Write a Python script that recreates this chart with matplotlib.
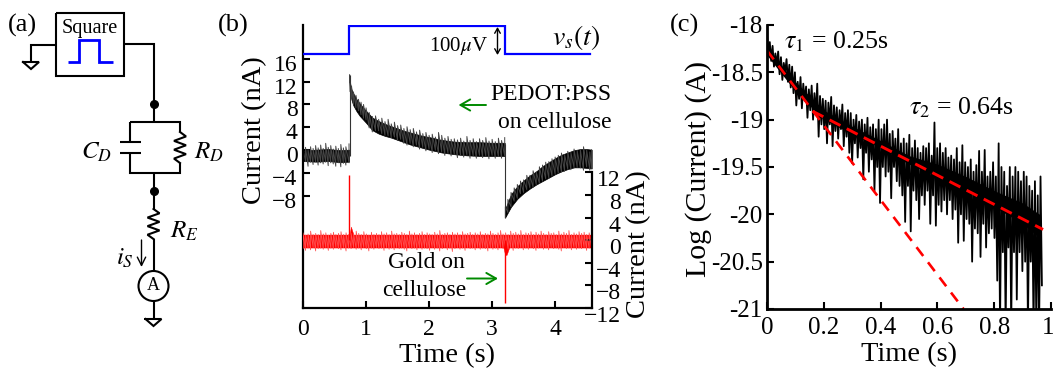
import matplotlib
matplotlib.use('Agg')
import matplotlib.pyplot as plt
import numpy as np
from matplotlib.patches import Circle
from matplotlib.transforms import ScaledTranslation

plt.rcParams['font.family'] = ['Liberation Serif', 'DejaVu Serif']
plt.rcParams['mathtext.fontset'] = 'stix'

W, H = 1055, 370

# Panel (b): square wave (uV)
volt_t = [0, 0.735, 0.735, 3.206, 3.206, 4.56]
volt_v = [0, 0, 100, 100, 0, 0]

# Panel (b): PEDOT:PSS trace, solid core of the noise band (nA)
core_pre_t = [0, 0.2, 0.4, 0.6, 0.73]
core_pre_hi = [-0.1, 0.1, 0.2, 0.0, 0.1]
core_pre_lo = [-1.9, -2.0, -1.9, -2.1, -2.0]
core_decay_t = [0.74, 0.75, 0.77, 0.80, 0.85, 0.90, 0.95, 1.00, 1.10, 1.20, 1.30, 1.40, 1.50, 1.60, 1.70, 1.80, 1.90, 2.00, 2.20, 2.40, 2.60, 2.80, 3.00, 3.20]
core_decay_hi = [12.8, 11.6, 10.6, 9.9, 8.9, 8.2, 7.5, 6.9, 5.7, 5.1, 4.6, 4.2, 3.8, 3.4, 3.1, 2.8, 2.5, 2.3, 1.8, 1.5, 1.4, 1.4, 1.3, 1.3]
core_decay_lo = [11.8, 10.0, 8.8, 7.8, 6.8, 6.0, 5.4, 4.8, 3.5, 2.9, 2.5, 2.2, 1.8, 1.4, 1.0, 0.7, 0.4, 0.1, -0.4, -0.7, -0.9, -1.0, -1.0, -1.0]
core_rec_t = [3.21, 3.30, 3.40, 3.50, 3.60, 3.70, 3.80, 3.90, 4.00, 4.10, 4.20, 4.30, 4.40, 4.50, 4.58]
core_rec_hi = [-10.2, -7.7, -6.3, -5.3, -4.4, -3.7, -2.8, -2.1, -1.4, -0.8, -0.4, 0.0, 0.2, 0.2, 0.1]
core_rec_lo = [-11.7, -9.9, -8.5, -7.5, -6.7, -6.0, -5.4, -4.8, -4.2, -3.7, -3.3, -3.0, -3.0, -3.1, -3.2]

# same trace, tips of the noise spikes around the core
pre_t = [0, 0.04, 0.08, 0.12, 0.16, 0.20, 0.24, 0.28, 0.32, 0.36, 0.40, 0.44, 0.48, 0.52, 0.56, 0.60, 0.64, 0.68, 0.73]
pre_hi = [0.2, 0.5, 0.1, 0.6, 0.3, 0.8, 0.4, 0.9, 0.3, 1.2, 0.5, 0.8, 0.2, 0.7, 0.3, 1.0, 0.4, 0.6, 1.1]
pre_lo = [-2.3, -2.0, -2.8, -2.1, -2.5, -2.0, -2.6, -2.2, -2.4, -2.1, -2.7, -2.2, -2.4, -2.8, -2.2, -2.9, -2.3, -2.6, -2.2]
decay_t = [0.74, 0.75, 0.77, 0.80, 0.84, 0.88, 0.92, 0.96, 1.00, 1.05, 1.10, 1.15, 1.20, 1.25, 1.30, 1.35, 1.40, 1.45,
           1.50, 1.55, 1.60, 1.65, 1.70, 1.75, 1.80, 1.85, 1.90, 1.95, 2.00, 2.05, 2.10, 2.15, 2.20, 2.25, 2.30, 2.35,
           2.40, 2.45, 2.50, 2.55, 2.60, 2.65, 2.70, 2.75, 2.80, 2.85, 2.90, 2.95, 3.00, 3.05, 3.10, 3.15, 3.20]
decay_hi = [13.2, 12.0, 11.2, 10.2, 9.6, 8.9, 8.4, 8.0, 7.4, 6.6, 5.9, 6.0, 5.4, 5.6, 5.0, 5.4, 4.6, 4.9,
            4.3, 4.4, 3.8, 4.1, 3.6, 3.8, 3.2, 3.5, 2.9, 3.1, 2.6, 2.8, 2.3, 3.1, 2.6, 2.1, 2.4, 1.9,
            2.0, 1.8, 2.1, 1.6, 2.4, 1.7, 2.0, 1.5, 2.0, 1.7, 2.2, 1.6, 1.9, 1.5, 2.1, 1.7, 2.2]
decay_lo = [12.0, 10.2, 9.0, 8.0, 7.4, 6.9, 6.2, 5.6, 5.3, 3.9, 3.2, 3.4, 3.4, 2.9, 2.6, 2.5, 2.2, 2.3,
            1.7, 1.9, 1.2, 0.9, 1.2, 0.6, 0.9, 0.2, 0.5, -0.1, 0.2, -0.4, 0.0, -0.6, -0.3, -0.9, -0.5, -1.0,
            -0.7, -1.3, -0.9, -1.2, -0.8, -1.4, -1.0, -1.4, -0.9, -1.3, -1.0, -1.5, -0.9, -1.4, -1.1, -1.4, -1.0]
rec_t = [3.21, 3.25, 3.30, 3.35, 3.40, 3.45, 3.50, 3.55, 3.60, 3.65, 3.70, 3.75, 3.80, 3.85, 3.90, 3.95,
         4.00, 4.05, 4.10, 4.15, 4.20, 4.25, 4.30, 4.35, 4.40, 4.45, 4.50, 4.55, 4.58]
rec_hi = [-9.9, -8.6, -7.4, -6.6, -6.0, -5.4, -5.2, -4.4, -4.4, -3.6, -3.8, -2.9, -2.6, -2.1, -2.0, -1.5,
          -1.2, -0.9, -0.5, -0.8, -0.2, -0.4, 0.2, -0.1, 0.1, 0.6, 0.0, -0.3, 0.1]
rec_lo = [-11.8, -10.9, -9.9, -8.9, -8.4, -7.6, -7.4, -6.9, -6.6, -6.5, -6.0, -5.8, -5.4, -5.0, -4.9, -4.5,
          -4.2, -4.0, -3.8, -3.7, -3.3, -3.4, -3.1, -3.0, -3.1, -3.5, -2.9, -3.5, -3.2]
black_edge_t = [0.74, 3.206]
black_edge_lo = [-1.0, -11.8]
black_edge_hi = [13.2, 1.0]

# Panel (b): gold trace (nA, right axis)
red_core_t = [0, 0.74, 0.76, 0.80, 3.18, 3.206, 3.23, 3.27, 4.58]
red_core_hi = [1.0, 1.0, 2.4, 1.0, 1.0, 1.0, 1.0, 1.0, 1.0]
red_core_lo = [-1.3, -1.3, -1.3, -1.3, -1.3, -2.6, -2.6, -1.3, -1.3]
red_hi = [1.3, 0.9, 1.1, 1.6, 1.0, 1.2, 1.0, 1.7, 1.1, 1.3, 0.9, 1.2, 1.4, 1.0, 1.2, 1.5, 1.0, 1.3, 1.0, 1.2,
          1.1, 1.6, 1.2, 1.0, 1.5, 1.1, 0.9, 1.4, 1.0, 1.2, 1.0, 1.5, 1.1, 1.3, 1.0, 1.6, 1.1, 1.2, 1.0, 1.4,
          1.2, 1.0, 1.6, 1.1, 1.3, 1.0, 1.2, 1.5, 1.0, 1.3, 1.1, 1.0, 1.4, 1.1, 1.7, 1.0, 1.2, 1.3, 1.0, 1.4,
          1.1, 1.3, 1.0, 1.5, 1.1, 1.2, 1.4, 1.0, 1.3, 1.1, 1.5, 1.0, 1.2, 1.1, 1.6, 1.2, 1.0, 1.3, 1.7, 1.1,
          1.3, 1.0, 1.6, 1.2, 1.4, 1.1, 1.7, 1.0, 1.3, 1.2, 1.5, 1.0, 1.4, 1.1, 1.6, 1.2, 1.0, 1.5, 1.2, 1.3,
          1.0, 1.6, 1.1, 1.4, 1.2, 1.7, 1.0, 1.3, 1.1, 1.5, 1.2, 1.4, 1.0, 1.3, 1.1]
red_lo = [-1.5, -1.8, -1.4, -1.7, -1.3, -1.9, -1.5, -1.4, -1.6, -1.3, -1.8, -1.4, -1.6, -1.3, -1.5, -1.7, -1.3, -1.9, -1.4, -1.5,
          -1.3, -1.6, -1.4, -1.7, -1.3, -1.5, -1.9, -1.4, -1.6, -1.3, -1.5, -1.4, -1.8, -1.3, -1.6, -1.4, -1.7, -1.3, -1.5, -1.4,
          -1.6, -1.9, -1.3, -1.5, -1.4, -1.7, -1.3, -1.6, -1.4, -1.5, -1.8, -1.3, -1.6, -1.4, -1.9, -1.5, -1.3, -1.7, -1.4, -2.0,
          -1.5, -1.3, -1.6, -1.4, -1.8, -1.3, -1.5, -1.4, -1.7, -1.3, -1.6, -1.4, -1.5, -1.9, -1.3, -1.6, -1.4, -1.7, -1.3, -1.5,
          -1.4, -1.6, -1.3, -1.8, -1.4, -1.5, -1.3, -1.7, -1.4, -1.6, -1.3, -1.5, -1.8, -1.4, -1.3, -1.6, -1.4, -1.7, -1.3, -1.5,
          -1.4, -1.6, -1.9, -1.3, -1.5, -1.4, -1.7, -1.3, -1.6, -1.4, -1.5, -1.3, -1.8, -1.4, -1.5]
red_t = np.linspace(0, 4.58, len(red_hi))
red_spike_t = [0.735, 3.206]
red_spike_peak = [11.6, -11.1]

log_i = [
    -18.10, -18.30, -18.18, -18.38, -18.22, -18.44, -18.30, -18.42, -18.28, -18.52, -18.34, -18.58, -18.40, -18.50, -18.36, -18.60, -18.42, -18.66, -18.44, -18.72,
    -18.50, -18.85, -18.60, -18.78, -18.55, -18.88, -18.62, -18.80, -18.65, -18.98, -18.68, -18.90, -18.64, -19.00, -18.72, -18.95, -18.62, -19.18, -18.75, -19.05,
    -18.78, -19.10, -18.80, -19.25, -18.82, -19.05, -18.76, -19.28, -18.85, -19.12, -18.87, -19.20, -18.90, -19.10, -18.84, -19.28, -18.93, -19.18, -18.90, -19.35,
    -18.93, -19.46, -19.00, -19.25, -18.95, -19.40, -19.02, -19.30, -19.00, -19.63, -19.05, -19.35, -18.98, -19.55, -19.08, -19.42, -19.05, -19.75, -19.10, -19.50,
    -19.00, -19.88, -19.10, -19.50, -19.05, -19.60, -19.00, -19.55, -19.15, -19.83, -19.12, -19.50, -19.20, -19.65, -19.10, -19.70, -19.25, -19.80, -19.20, -20.08,
    -19.25, -19.70, -19.16, -20.18, -19.30, -19.75, -19.22, -19.85, -19.30, -20.05, -19.35, -19.80, -19.28, -19.90, -19.30, -19.75, -19.25, -20.10, -19.38, -19.80,
    -19.03, -20.12, -19.30, -19.90, -19.25, -19.97, -19.35, -19.85, -19.30, -20.00, -19.40, -19.85, -19.38, -20.05, -19.42, -19.95, -19.30, -20.30, -19.45, -20.00,
    -19.27, -20.28, -19.45, -20.05, -19.50, -20.10, -19.42, -20.50, -19.55, -20.15, -19.48, -20.20, -19.33, -20.45, -19.55, -20.10, -19.32, -20.35, -19.60, -20.20,
    -19.55, -20.15, -19.45, -20.25, -19.60, -20.70, -19.25, -21.20, -19.50, -20.40, -19.55, -21.20, -19.70, -20.35, -19.50, -21.20, -19.60, -20.40, -19.50, -20.90,
    -19.55, -20.40, -19.65, -20.60, -19.55, -20.50, -19.60, -21.20, -19.70, -20.50, -19.75, -21.20, -19.65, -21.20, -19.80, -21.20, -19.60, -20.75,
]
log_t = np.linspace(0, 0.968, len(log_i))
log_core_t = [0, 0.10, 0.20, 0.30, 0.40, 0.50, 0.60, 0.70, 0.80, 0.90, 0.96]
log_core_hi = [-18.25, -18.60, -18.90, -19.07, -19.22, -19.38, -19.47, -19.60, -19.75, -19.88, -20.00]
log_core_lo = [-18.32, -18.70, -19.00, -19.15, -19.30, -19.47, -19.60, -19.75, -19.92, -20.10, -20.25]
fit1_t = [0, 0.692]
fit1_y = [-18.27, -21.0]
fit2_t = [0.16, 0.972]
fit2_y = [-18.91, -20.16]

xticks_b = [0, 1, 2, 3, 4]
yticks_left = [-8, -4, 0, 4, 8, 12, 16]
yticks_right = [-12, -8, -4, 0, 4, 8, 12]
xticks_c = [0, 0.2, 0.4, 0.6, 0.8, 1]
xlabels_c = ['0', '0.2', '0.4', '0.6', '0.8', '1']
yticks_c = [-21, -20.5, -20, -19.5, -19, -18.5, -18]
ylabels_c = ['-21', '-20.5', '-20', '-19.5', '-19', '-18.5', '-18']


def px_axes(fig, left, top, right, bottom, **kw):
    return fig.add_axes([left / W, 1 - bottom / H, (right - left) / W, (bottom - top) / H], **kw)


def shift_labels(fig, labels, dy_px, dx_px=0):
    offset = ScaledTranslation(dx_px / fig.dpi, -dy_px / fig.dpi, fig.dpi_scale_trans)
    for lab in labels:
        lab.set_transform(lab.get_transform() + offset)


def zigzag(ax, t, lo, hi, color, lw):
    # run the trace up and down between the noise tips
    xs = np.column_stack([t, t]).ravel()
    ys = np.column_stack([lo, hi]).ravel()
    ax.plot(xs, ys, color=color, lw=lw)


def wire(ax, xs, ys, lw=1.5, color='black'):
    ax.plot(xs, ys, color=color, lw=lw, solid_joinstyle='miter', solid_capstyle='butt')


def resistor(ax, x, y0, y1):
    ys = np.linspace(y0, y1, 8)
    xs = [x, x + 6, x - 6, x + 6, x - 6, x + 6, x - 6, x]
    ax.plot(xs, ys, color='black', lw=1.5, solid_joinstyle='miter')


def ground(ax, x, y):
    ax.plot([x - 8, x + 8, x, x - 8], [y, y, y + 7, y], color='black', lw=1.5, solid_joinstyle='miter')


fig = plt.figure(figsize=(W / 100, H / 100), dpi=100)

# ---- panel (b) ----
ax_b = px_axes(fig, 303, 25, 591.7, 308)
zigzag(ax_b, pre_t, pre_lo, pre_hi, '#444444', 0.7)
zigzag(ax_b, decay_t, decay_lo, decay_hi, '#444444', 0.7)
zigzag(ax_b, rec_t, rec_lo, rec_hi, '#444444', 0.7)
ax_b.fill_between(core_pre_t, core_pre_lo, core_pre_hi, color='black', lw=0.5)
ax_b.fill_between(core_decay_t, core_decay_lo, core_decay_hi, color='black', lw=0.5)
ax_b.fill_between(core_rec_t, core_rec_lo, core_rec_hi, color='black', lw=0.5)
ax_b.vlines(black_edge_t, black_edge_lo, black_edge_hi, color='#333333', lw=0.8)
ax_b.set_xlim(0, 4.58)
ax_b.set_ylim(-27.6, 21.9)
ax_b.set_xticks(xticks_b)
ax_b.set_yticks(yticks_left)
ax_b.tick_params(direction='in', length=5, width=1.5, labelsize=17, pad=4)
ax_b.tick_params(axis='x', pad=8)
ax_b.set_xlabel('Time (s)', fontsize=20.5, labelpad=2)
for side in ['top', 'right']:
    ax_b.spines[side].set_visible(False)
for side in ['left', 'bottom']:
    ax_b.spines[side].set_linewidth(1.6)
shift_labels(fig, ax_b.get_yticklabels(), 4)

ax_r = ax_b.twinx()
zigzag(ax_r, red_t, red_lo, red_hi, '#ff5050', 0.6)
ax_r.fill_between(red_core_t, red_core_lo, red_core_hi, color='#ff0000', lw=0.3)
ax_r.vlines(red_spike_t, [0, 0], red_spike_peak, color='#ff0000', lw=1.0)
ax_r.set_ylim(-12, 38.09)
ax_r.set_yticks(yticks_right)
ax_r.tick_params(direction='in', length=5, width=1.5, labelsize=17, pad=21)
for lab in ax_r.get_yticklabels():
    lab.set_ha('right')
shift_labels(fig, ax_r.get_yticklabels(), 6)
for side in ['top', 'left', 'bottom']:
    ax_r.spines[side].set_visible(False)
ax_r.spines['right'].set_linewidth(1.6)
ax_r.spines['right'].set_bounds(-12, 12)

ax_v = ax_b.twinx()
ax_v.plot(volt_t, volt_v, color='#0000ff', lw=1.6, solid_joinstyle='miter')
ax_v.set_ylim(-907, 103.6)
ax_v.axis('off')

# ---- panel (c) ----
ax_c = px_axes(fig, 767, 25, 1051, 309)
ax_c.fill_between(log_core_t, log_core_lo, log_core_hi, color='black', lw=0)
ax_c.plot(log_t, log_i, color='black', lw=1.3)
ax_c.plot(fit1_t, fit1_y, color='#ff0000', lw=1.9, dashes=(4.2, 3))
ax_c.plot(fit2_t, fit2_y, color='#ff0000', lw=2.1, dashes=(4.2, 2.4))
ax_c.set_xlim(0, 1)
ax_c.set_ylim(-21, -18)
ax_c.set_xticks(xticks_c)
ax_c.set_xticklabels(xlabels_c)
ax_c.set_yticks(yticks_c)
ax_c.set_yticklabels(ylabels_c)
ax_c.tick_params(direction='in', length=5, width=1.5, labelsize=18, pad=3)
ax_c.tick_params(axis='x', pad=6)
ax_c.set_xlabel('Time (s)', fontsize=20.5, labelpad=2)
for side in ['top', 'right']:
    ax_c.spines[side].set_visible(False)
for side in ['left', 'bottom']:
    ax_c.spines[side].set_linewidth(2)
shift_labels(fig, ax_c.get_xticklabels()[-1:], 0, -3)

# ---- overlay in pixel coordinates: circuit and annotations ----
ov = fig.add_axes([0, 0, 1, 1], facecolor='none')
ov.set_xlim(0, W)
ov.set_ylim(H, 0)
ov.axis('off')

wire(ov, [56, 124, 124, 56, 56], [13, 13, 76, 76, 13])
wire(ov, [56, 31, 31], [45, 45, 62])
ground(ov, 31, 62)
wire(ov, [124, 153.5, 153.5], [44, 44, 122])
wire(ov, [68, 79, 79, 99, 99, 113], [62, 62, 40, 40, 62, 62], lw=2, color='#0000ff')
ov.plot([153.5, 153.5], [104, 190.5], 'o', color='black', ms=5.5)
wire(ov, [130, 180, 180], [122, 122, 132])
wire(ov, [130, 130], [122, 141.6])
wire(ov, [120, 141], [141.6, 141.6])
wire(ov, [120, 141], [153, 153])
wire(ov, [130, 130, 180, 180], [153, 172.6, 172.6, 163])
resistor(ov, 180, 132, 163)
wire(ov, [153.5, 153.5], [172.6, 209])
resistor(ov, 153.5, 209, 239)
wire(ov, [153.5, 153.5], [239, 271])
ov.add_patch(Circle((153.5, 286), 15, fill=False, ec='black', lw=1.5))
wire(ov, [153.5, 153.5], [301, 319])
ground(ov, 153.5, 319)
ov.annotate('', xy=(141.5, 267), xytext=(141.5, 240),
            arrowprops=dict(arrowstyle='->,head_width=0.3,head_length=0.6', lw=1, color='black', shrinkA=0, shrinkB=0))
ov.annotate('', xy=(497.5, 27), xytext=(497.5, 55),
            arrowprops=dict(arrowstyle='<->,head_width=0.2,head_length=0.35', lw=1, color='black', shrinkA=0, shrinkB=0))
ov.annotate('', xy=(458.5, 105), xytext=(486, 105),
            arrowprops=dict(arrowstyle='->,head_width=0.4,head_length=0.7', lw=1.4, color='#008a00', shrinkA=0, shrinkB=0))
ov.annotate('', xy=(498, 278.5), xytext=(467, 278.5),
            arrowprops=dict(arrowstyle='->,head_width=0.4,head_length=0.7', lw=1.4, color='#008a00', shrinkA=0, shrinkB=0))


def label(x, y, s, size, ha='center', rot=0):
    ov.text(x, y, s, fontsize=size, ha=ha, va='center', rotation=rot)


label(22.5, 25, '(a)', 19)
label(233, 25, '(b)', 19)
label(684.5, 25, '(c)', 19)
label(90, 28, 'Square', 14.6)
label(96, 152, r'$C_D$', 18)
label(209, 152, r'$R_D$', 18)
label(184, 231, r'$R_E$', 18)
label(125, 258, r'$i_S$', 18)
label(153.5, 285.5, 'A', 13)
label(459, 46, r'100$\mu$V', 15)
label(576, 37, r'$v_s(t)$', 20)
label(611.7, 94, 'PEDOT:PSS', 17, ha='right')
label(611.7, 123, 'on cellulose', 17, ha='right')
label(426.7, 263, 'Gold on', 17)
label(424, 290, 'cellulose', 17)
label(836, 42, r'$\tau_1$ = 0.25s', 18.6)
label(961, 108, r'$\tau_2$ = 0.64s', 18.6)
label(255, 130, 'Current (nA)', 20.5, rot=90)
label(639, 244, 'Current (nA)', 20.5, rot=90)
label(699, 169, 'Log (Current) (A)', 21.5, rot=90)

fig.savefig('out.png', dpi=100)
